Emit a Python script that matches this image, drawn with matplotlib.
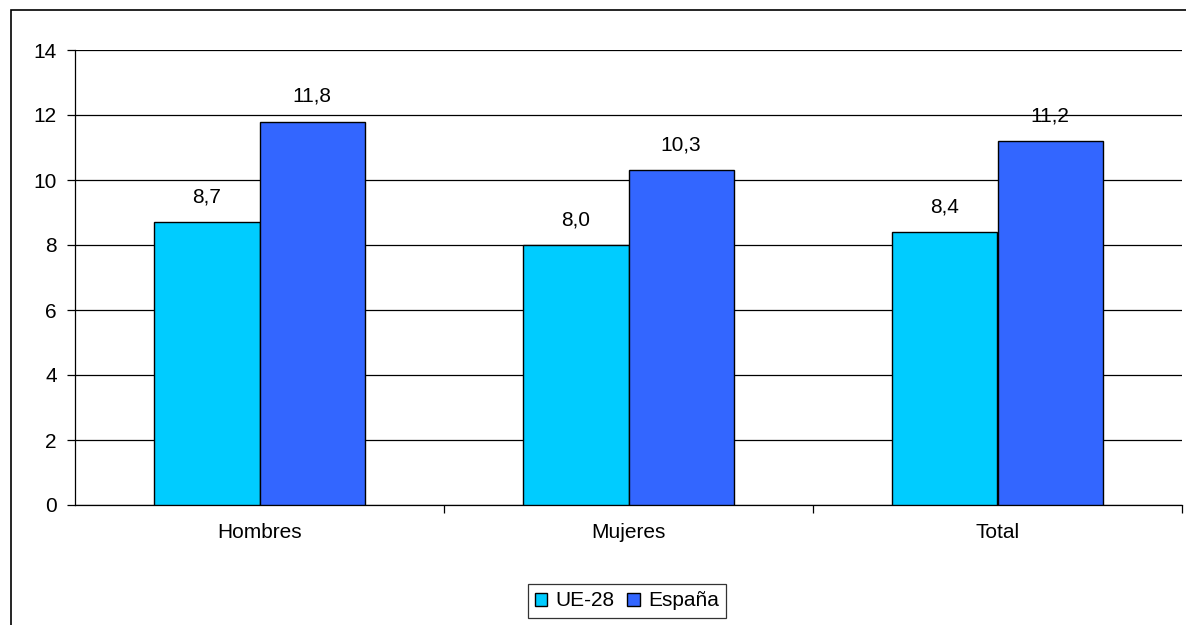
import matplotlib
matplotlib.use("Agg")
import matplotlib.pyplot as plt
import numpy as np
from matplotlib.patches import Rectangle

plt.rcParams['font.family'] = ['Liberation Sans', 'DejaVu Sans']

# data
categories = ['Hombres', 'Mujeres', 'Total']
ue28 = [8.7, 8.0, 8.4]
espana = [11.8, 10.3, 11.2]
series_names = ['UE-28', 'España']

W, H = 1186, 625
FS = 15
fig = plt.figure(figsize=(W / 100, H / 100), dpi=100)
ax = fig.add_axes([75 / W, 1 - 505 / H, (1182 - 75) / W, (505 - 50) / H])

# outer chart frame (clipped at right/bottom like the original)
fig.patches.append(Rectangle((11 / W, -0.05), 1.1, 1 - 10 / H + 0.05,
                             transform=fig.transFigure, fill=False,
                             edgecolor='black', linewidth=1.2))

x = np.arange(len(categories))
bw = 0.285
b1 = ax.bar(x - bw / 2, ue28, bw, color='#00CCFF', edgecolor='black',
            linewidth=1.0, label=series_names[0], zorder=3)
b2 = ax.bar(x + bw / 2, espana, bw, color='#3366FF', edgecolor='black',
            linewidth=1.0, label=series_names[1], zorder=3)

for bars, vals in ((b1, ue28), (b2, espana)):
    for r, v in zip(bars, vals):
        ax.text(r.get_x() + r.get_width() / 2, v + 0.6,
                ('%.1f' % v).replace('.', ','), ha='center', va='baseline',
                fontsize=FS)

ax.set_xlim(-0.5, 2.5)
ax.set_ylim(0, 14)
ax.set_yticks(range(0, 15, 2))
ax.yaxis.grid(True, color='black', linewidth=0.9, zorder=0)
ax.set_axisbelow(True)

# category labels between boundary ticks
ax.set_xticks([0.5, 1.5, 2.5], minor=False)
ax.set_xticklabels([])
ax.set_xticks(x, minor=True)
ax.set_xticklabels(categories, minor=True, fontsize=FS)
ax.tick_params(axis='x', which='minor', length=0, pad=13)
ax.tick_params(axis='x', which='major', length=6, direction='out', width=0.9)
ax.tick_params(axis='y', length=6, direction='out', width=0.9, labelsize=FS, pad=7)

for s in ['top', 'right']:
    ax.spines[s].set_visible(False)
ax.spines['left'].set_linewidth(0.9)
ax.spines['bottom'].set_linewidth(0.9)

leg = ax.legend(loc='center', bbox_to_anchor=(627 / W, 1 - 601 / H),
                bbox_transform=fig.transFigure, ncol=2, fontsize=FS,
                frameon=True, fancybox=False, handlelength=0.6,
                handleheight=0.6, handletextpad=0.4, columnspacing=0.6,
                borderpad=0.35, borderaxespad=0)
leg.get_frame().set_edgecolor('black')
leg.get_frame().set_linewidth(0.9)

fig.savefig('out.png', dpi=100)
